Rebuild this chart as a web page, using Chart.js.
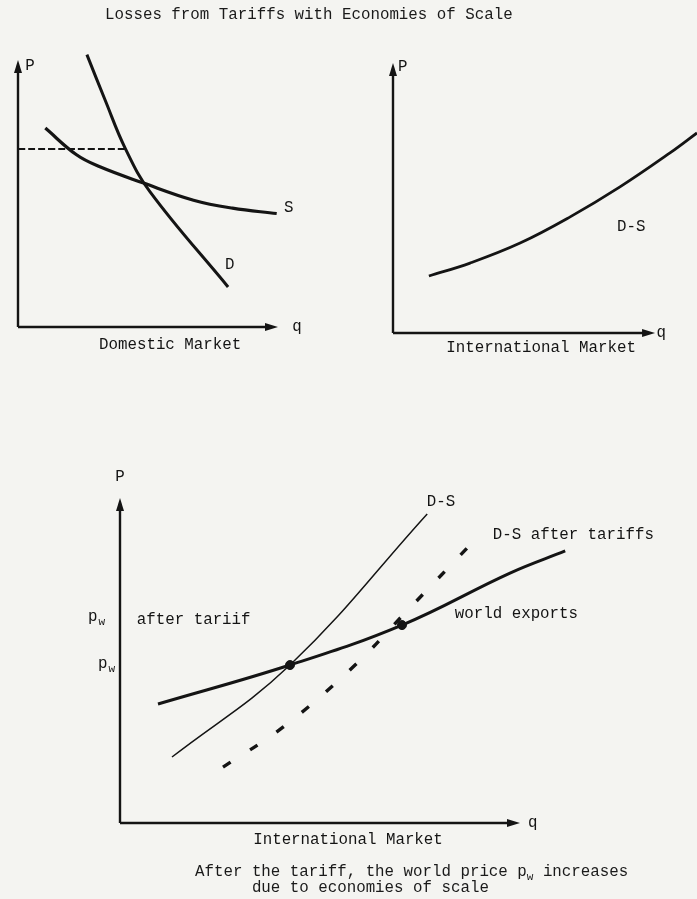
<!DOCTYPE html>
<html>
<head>
<meta charset="utf-8">
<script src="https://cdn.jsdelivr.net/npm/chart.js@4.4.1/dist/chart.umd.min.js"></script>
<style>
  body { margin: 0; background: #f4f4f1; }
  #page { position: relative; width: 697px; height: 899px; overflow: hidden; background: #f4f4f1;
          font-family: "Liberation Mono", "DejaVu Sans Mono", monospace; font-size: 15.8px; color: #1a1a1a; }
  #page canvas { position: absolute; left: 0; top: 0; }
  .txt { position: absolute; white-space: pre; line-height: 16px; }
  .txt sub { font-size: 11px; vertical-align: -4px; line-height: 0; }
</style>
</head>
<body>
<div id="page">
  <canvas id="domestic" width="697" height="899"></canvas>
  <canvas id="international" width="697" height="899"></canvas>
  <canvas id="tariff" width="697" height="899"></canvas>
  <div class="txt" style="left:105px; top:7px;">Losses from Tariffs with Economies of Scale</div>
  <div class="txt" style="left:195px; top:864px;">After the tariff, the world price p<sub>w</sub> increases</div>
  <div class="txt" style="left:195px; top:880px;">      due to economies of scale</div>
</div>
<script>
// domestic market (top left)
const domesticDemandQ = [2.65, 3.35, 4.12, 5.08, 8.08];
const domesticDemandP = [10.2, 8.5, 6.7, 5.06, 1.5];
const domesticSupplyQ = [1.05, 2.25, 3.15, 4.8, 6.75, 8.25, 9.95];
const domesticSupplyP = [7.45, 6.45, 6.0, 5.4, 4.75, 4.45, 4.25];
const domesticPriceQ = [0, 4.23];
const domesticPriceP = [6.67, 6.67];

// international market (top right)
const intlQ = [1.37, 2.94, 4.85, 6.76, 8.66, 10.57, 11.6];
const intlP = [2.11, 2.59, 3.33, 4.30, 5.41, 6.67, 7.41];

// international market after tariff (bottom)
const dsQ = [1.3, 4.25, 7.68];
const dsP = [2.03, 4.86, 9.51];
const dsTariffQ = [2.575, 4.075, 5.825, 7.125, 8.7];
const dsTariffP = [1.72, 2.95, 4.8, 6.46, 8.49];
const exportsQ = [0.95, 4.25, 7.05, 9.75, 11.13];
const exportsP = [3.66, 4.86, 6.09, 7.69, 8.37];
const equilibriumQ = [4.25, 7.05];
const equilibriumP = [4.86, 6.09];

const INK = '#141414';
const FONT = '15.8px "Liberation Mono", "DejaVu Sans Mono", monospace';
const SUBFONT = '11px "Liberation Mono", "DejaVu Sans Mono", monospace';

const pts = (qs, ps) => qs.map((q, i) => ({ x: q, y: ps[i] }));

function curve(qs, ps, width, extra) {
    return Object.assign({
        data: pts(qs, ps),
        borderColor: INK,
        borderWidth: width,
        pointRadius: 0,
        tension: 0.4,
        clip: false,
        fill: false
    }, extra || {});
}

function arrow(ctx, x1, y1, x2, y2) {
    const a = Math.atan2(y2 - y1, x2 - x1);
    ctx.beginPath();
    ctx.moveTo(x1, y1);
    ctx.lineTo(x2 - 8 * Math.cos(a), y2 - 8 * Math.sin(a));
    ctx.stroke();
    ctx.beginPath();
    ctx.moveTo(x2, y2);
    ctx.lineTo(x2 - 13 * Math.cos(a) + 4 * Math.sin(a), y2 - 13 * Math.sin(a) - 4 * Math.cos(a));
    ctx.lineTo(x2 - 13 * Math.cos(a) - 4 * Math.sin(a), y2 - 13 * Math.sin(a) + 4 * Math.cos(a));
    ctx.closePath();
    ctx.fill();
}

// axes with arrows (to q = 10, p = 10) and the text labels, placed through the scales
const sketchPlugin = {
    id: 'sketch',
    afterDatasetsDraw(chart, args, opts) {
        const { ctx, scales: { x, y } } = chart;
        ctx.save();
        ctx.strokeStyle = INK;
        ctx.fillStyle = INK;
        ctx.lineWidth = 2.4;
        const x0 = x.getPixelForValue(0), y0 = y.getPixelForValue(0);
        arrow(ctx, x0, y0, x.getPixelForValue(10), y0);
        arrow(ctx, x0, y0, x0, y.getPixelForValue(10));
        ctx.textBaseline = 'middle';
        (opts.labels || []).forEach(l => {
            const px = x.getPixelForValue(l.q), py = y.getPixelForValue(l.p);
            ctx.font = FONT;
            ctx.textAlign = l.align || 'left';
            ctx.fillText(l.text, px, py);
            if (l.sub) {
                const w = ctx.measureText(l.text).width;
                ctx.font = SUBFONT;
                ctx.textAlign = 'left';
                ctx.fillText(l.sub, px + w + 1, py + 5);
            }
        });
        ctx.restore();
    }
};

function makeChart(id, pad, xMax, datasets, labels) {
    return new Chart(document.getElementById(id), {
        type: 'line',
        data: { datasets: datasets },
        options: {
            responsive: false,
            animation: false,
            devicePixelRatio: 1,
            layout: { padding: pad },
            scales: {
                x: { type: 'linear', min: 0, max: xMax, display: false },
                y: { type: 'linear', min: 0, max: 10, display: false }
            },
            plugins: {
                legend: { display: false },
                tooltip: { enabled: false },
                sketch: { labels: labels }
            }
        },
        plugins: [sketchPlugin]
    });
}

makeChart('domestic', { left: 18, top: 60, right: 419, bottom: 572 }, 10, [
    curve(domesticDemandQ, domesticDemandP, 3),
    curve(domesticSupplyQ, domesticSupplyP, 3.2),
    curve(domesticPriceQ, domesticPriceP, 2, { borderDash: [7, 3] })
], [
    { text: 'P', q: 0.28, p: 9.77 },
    { text: 'q', q: 10.55, p: 0 },
    { text: 'S', q: 10.23, p: 4.46 },
    { text: 'D', q: 7.96, p: 2.32 },
    { text: 'Domestic Market', q: 5.85, p: -0.67, align: 'center' }
]);

makeChart('international', { left: 393, top: 63, right: 0, bottom: 566 }, 11.6, [
    curve(intlQ, intlP, 2.8)
], [
    { text: 'P', q: 0.19, p: 9.85 },
    { text: 'q', q: 10.05, p: 0 },
    { text: 'D-S', q: 8.55, p: 3.93 },
    { text: 'International Market', q: 5.65, p: -0.56, align: 'center' }
]);

makeChart('tariff', { left: 120, top: 498, right: 120, bottom: 76 }, 11.425, [
    curve(dsQ, dsP, 1.5),
    curve(dsTariffQ, dsTariffP, 3.4, { borderDash: [9, 23] }),
    curve(exportsQ, exportsP, 3),
    {
        data: pts(equilibriumQ, equilibriumP),
        showLine: false,
        pointRadius: 4.5,
        pointBackgroundColor: INK,
        pointBorderColor: INK,
        clip: false
    }
], [
    { text: 'P', q: 0, p: 10.65, align: 'center' },
    { text: 'q', q: 10.2, p: 0 },
    { text: 'D-S', q: 7.67, p: 9.88 },
    { text: 'D-S after tariffs', q: 9.32, p: 8.86 },
    { text: 'world exports', q: 8.37, p: 6.43 },
    { text: 'after tariif', q: 0.42, p: 6.25 },
    { text: 'p', sub: 'w', q: -0.8, p: 6.35 },
    { text: 'p', sub: 'w', q: -0.55, p: 4.9 },
    { text: 'International Market', q: 5.7, p: -0.52, align: 'center' }
]);
</script>
</body>
</html>
